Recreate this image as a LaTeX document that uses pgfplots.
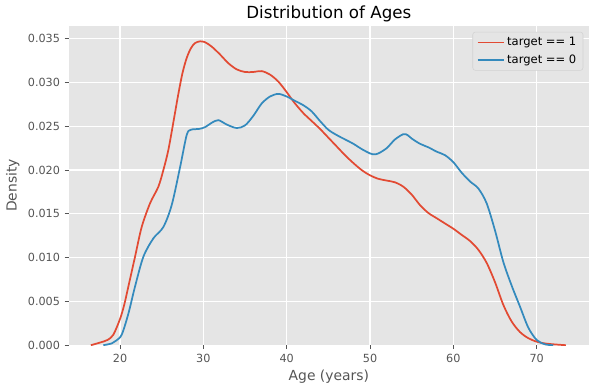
\documentclass[border=0pt]{standalone}
\usepackage{pgfplots}
\pgfplotsset{compat=1.18}
\usepackage{fontspec}
\setmainfont{DejaVu Sans}
\definecolor{ggred}{HTML}{E24A33}
\definecolor{ggblue}{HTML}{348ABD}
\definecolor{ggbg}{HTML}{E5E5E5}
\definecolor{ggtext}{HTML}{555555}
\definecolor{ggedge}{HTML}{D2D2D2}
\begin{document}
\begin{tikzpicture}
\useasboundingbox (-51.5pt,-33.75pt) rectangle (398.25pt,258.75pt);
\begin{axis}[
  at={(0,0)}, anchor=south west,
  scale only axis, width=390pt, height=239.25pt,
  xmin=13.84, xmax=76.28, ymin=0, ymax=0.03645,
  axis background/.style={fill=ggbg},
  axis line style={draw=none},
  grid=major, major grid style={white, line width=0.9pt},
  xtick={20,30,40,50,60,70},
  ytick={0,0.005,0.010,0.015,0.020,0.025,0.030,0.035},
  scaled y ticks=false,
  yticklabel style={/pgf/number format/.cd, fixed, fixed zerofill, precision=3},
  /pgf/number format/assume math mode=true,
  tick label style={font=\fontsize{8.4}{10}\selectfont, color=ggtext},
  tick align=outside, xtick pos=left, ytick pos=left,
  major tick length=3pt,
  tick style={color=ggtext, line width=0.6pt},
  title={Distribution of Ages},
  every axis title/.style={at={(axis description cs:0.5,1)}, anchor=base, yshift=6pt, font=\fontsize{12.5}{15}\selectfont},
  xlabel={Age (years)},
  ylabel={Density},
  every axis x label/.style={at={(axis description cs:0.5,-0.1097)}, anchor=base, font=\fontsize{10.4}{12}\selectfont, color=ggtext},
  every axis y label/.style={at={(axis description cs:-0.1,0.5)}, anchor=base, rotate=90, font=\fontsize{10.4}{12}\selectfont, color=ggtext},
  legend style={at={(axis description cs:0.989,0.982)}, anchor=north east,
    fill=ggbg, draw=ggedge, rounded corners=2pt,
    font=\fontsize{8.66}{10}\selectfont, row sep=1pt,
    inner xsep=3pt, inner ysep=2pt},
  legend cell align=left,
  legend image code/.code={\draw[line width=1.3pt,#1] (0pt,0pt) -- (19.5pt,0pt);},
]
\addplot[ggred, line width=1.3pt, smooth] coordinates {
(16.5,0) (17.6,0.0003) (18.5,0.0006) (19.2,0.0012) (20,0.0030) (20.5,0.0046) (21,0.0067)
(21.8,0.0101) (22.6,0.0135) (23.6,0.0162) (24.6,0.0181) (25.2,0.0200) (25.8,0.0223)
(26.5,0.0260) (27,0.0287) (27.5,0.0311) (28,0.0328) (28.5,0.0339) (29,0.0345) (29.6,0.0347)
(30.2,0.0346) (31,0.0341) (32,0.0332) (33,0.0322) (34,0.0315) (35,0.0312) (36,0.0312)
(37,0.0313) (38,0.0309) (39,0.0301) (40,0.0289) (40.6,0.0281) (41,0.0276) (42,0.0265)
(43,0.0256) (44,0.0247) (45,0.0237) (46,0.0227) (47,0.0217) (48,0.0208) (49,0.0200)
(50,0.0194) (51,0.0190) (52,0.0188) (53,0.0186) (54,0.0181) (55,0.0172) (56,0.0160)
(57,0.0151) (58,0.0145) (59,0.0139) (60,0.0133) (61,0.0126) (62,0.0119) (63,0.0109)
(64,0.0094) (65,0.0072) (66,0.0046) (67,0.0027) (68,0.0015) (69,0.0008) (70,0.0004)
(71,0.0002) (72,0.0001) (73.5,0)
};
\addlegendentry{target == 1}
\addplot[ggblue, line width=1.3pt, smooth] coordinates {
(18,0) (19,0.0002) (19.5,0.0005) (20.2,0.0012) (21,0.0036) (21.8,0.0067) (22.8,0.0101)
(24,0.0122) (25.2,0.0135) (26.2,0.0160) (27.2,0.0203) (28,0.0240) (28.5,0.0246) (29.5,0.0247)
(30.2,0.0249) (31,0.0254) (31.8,0.0257) (32.8,0.0252) (34,0.0248) (35,0.0251) (36,0.0262)
(37,0.0276) (38,0.0284) (39,0.0287) (40,0.0284) (41,0.0279) (42,0.0274) (43,0.0267)
(44,0.0256) (45,0.0246) (46,0.0240) (47,0.0235) (48,0.0230) (49,0.0224) (50,0.0219)
(50.5,0.0218) (51,0.0219) (52,0.0225) (53,0.0235) (54,0.0241) (54.5,0.0240) (55,0.0236)
(56,0.0230) (57,0.0226) (58,0.0221) (59,0.0217) (60,0.0209) (61,0.0197) (62,0.0187)
(63,0.0179) (64,0.0162) (65,0.0131) (66,0.0095) (67,0.0068) (68,0.0044) (69,0.0020)
(70,0.0006) (71,0.0001) (72,0)
};
\addlegendentry{target == 0}
\end{axis}
\end{tikzpicture}
\end{document}
